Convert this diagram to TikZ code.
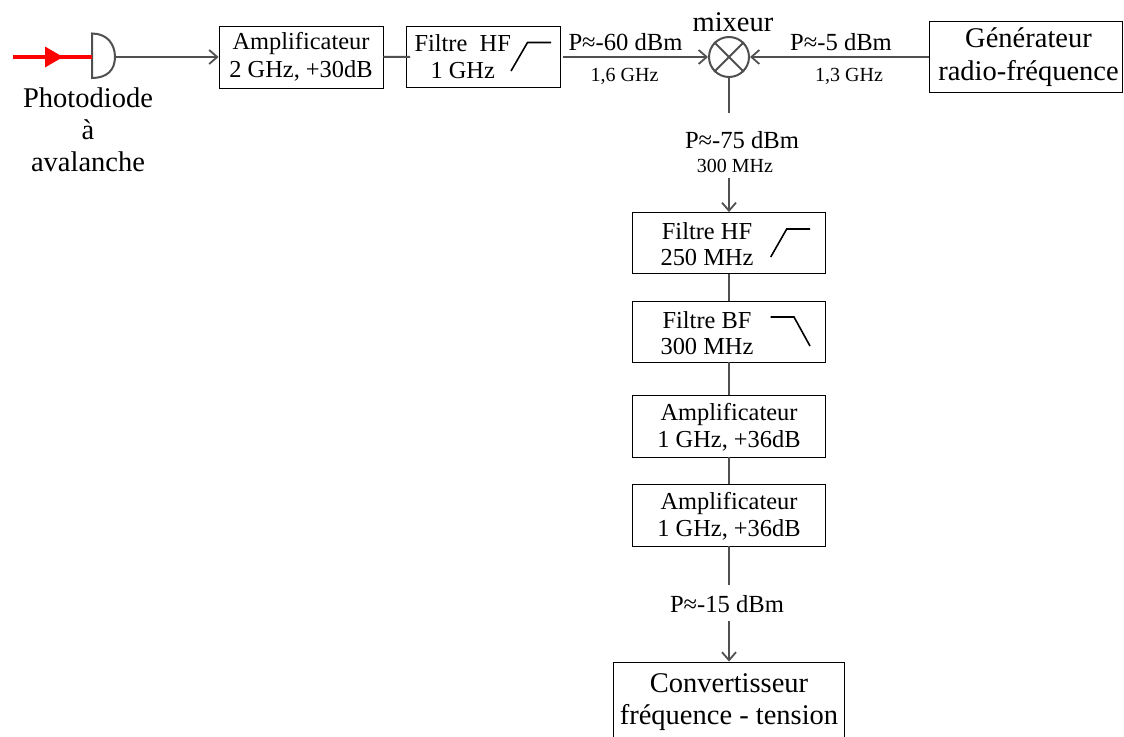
\documentclass[tikz,border=0pt]{standalone}
\usepackage{fontspec}
\setmainfont{Liberation Serif}
\usetikzlibrary{arrows.meta}
\definecolor{wire}{HTML}{505050}
\newcommand{\fs}[1]{\fontsize{#1}{#1}\selectfont}
\newcommand{\lowr}{\rule{0pt}{20pt}}
\tikzset{
  x=1pt,y=-1pt,
  blockbox/.style={draw=black,line width=0.9pt,fill=white,inner sep=0pt,align=center,anchor=center},
  txtA/.style={font=\fs{24.4},text=black},
  txtB/.style={font=\fs{28.5},text=black},
  lab/.style={inner sep=0pt,anchor=base,text=black},
  small/.style={lab,font=\fs{20}},
  med/.style={lab,font=\fs{24.6}},
  big/.style={lab,font=\fs{28.5}},
  wireline/.style={draw=wire,line width=2pt},
  wirearrow/.style={wireline,-{Straight Barb[length=8pt,width=14pt,line width=1.8pt]}},
  curve/.style={draw=black,line width=1.6pt,line join=miter},
}
\begin{document}
\begin{tikzpicture}
\useasboundingbox (0,0) rectangle (1124,736);
% coordinates of the photodiode
\coordinate (pdin) at (92,57);
\coordinate (pdout) at (115,57);
\coordinate (redstart) at (13,57);
% blocks
\node[blockbox,txtA,minimum width=164pt,minimum height=62pt] (amp1) at (301,57) {Amplificateur\\[3.2pt]2 GHz, +30dB};
\node[blockbox,txtA,minimum width=153.5pt,minimum height=61.5pt] (filt1) at (483.2,56.8) {Filtre\ \ HF\hspace*{41pt}\\[2pt]1 GHz\hspace*{41pt}};
\node[blockbox,txtB,minimum width=193pt,minimum height=71pt] (gen) at (1025.5,57) {\hspace*{6pt}G\'en\'erateur\\[5pt]\hspace*{6pt}radio-fr\'equence};
\node[draw=wire,line width=2pt,circle,fill=white,minimum size=40pt,inner sep=0pt] (mix) at (729,57) {};
\node[blockbox,txtA,minimum width=193.5pt,minimum height=61pt] (hf) at (729,243) {\lowr Filtre HF\hspace*{44pt}\\[1.5pt]250 MHz\hspace*{44pt}};
\node[blockbox,txtA,minimum width=193.5pt,minimum height=60.5pt] (bf) at (729,331.7) {\lowr Filtre BF\hspace*{44pt}\\[1.5pt]300 MHz\hspace*{44pt}};
\node[blockbox,txtA,minimum width=193.5pt,minimum height=62pt] (amp2) at (729,426) {\lowr Amplificateur\\[2.6pt]1 GHz, +36dB};
\node[blockbox,txtA,minimum width=193.5pt,minimum height=62pt] (amp3) at (729,515) {\lowr Amplificateur\\[2.6pt]1 GHz, +36dB};
\node[blockbox,txtB,minimum width=231pt,minimum height=80pt] (conv) at (729,702) {Convertisseur\\[4pt]fr\'equence - tension};
% mixer cross
\draw[draw=wire,line width=2pt] (mix.45) -- (mix.225) (mix.135) -- (mix.315);
% photodiode
\draw[draw=wire,line width=2pt,fill=white] (92,33.5) .. controls (107,33.5) and (115,44) .. (115,57) .. controls (115,70) and (107,78) .. (92,78) -- cycle;
\draw[red,line width=4pt] (redstart) -- (pdin);
\fill[red] (45,46.5) -- (63,57) -- (45,67.5) -- cycle;
% connectors
\coordinate (f1out) at (563,57);
\coordinate (m75a) at (729,113);
\coordinate (m75b) at (729,178);
\coordinate (o15a) at (729,585);
\coordinate (o15b) at (729,621);
\draw[wirearrow] (pdout) -- (amp1.west);
\draw[wireline] (amp1.east) -- ([xshift=4pt]filt1.west);
\draw[wirearrow] (f1out) -- (mix.west);
\draw[wirearrow] (gen.west) -- (mix.east);
\draw[wireline] (mix.south) -- (m75a);
\draw[wirearrow] (m75b) -- (hf.north);
\draw[wireline] (hf.south) -- (bf.north);
\draw[wireline] (bf.south) -- (amp2.north);
\draw[wireline] (amp2.south) -- (amp3.north);
\draw[wireline] (amp3.south) -- (o15a);
\draw[wirearrow] (o15b) -- (conv.north);
% filter curves
\draw[curve] (511,71) -- (527.5,42.5) -- (551,42.5);
\draw[curve] (770.7,257) -- (786.7,229) -- (810,229);
\draw[curve] (770.7,317) -- (794,317) -- (810,346);
% labels
\node[big] (l1) at (88,107) {Photodiode};
\node[big] (l2) at (88,139) {\`a};
\node[big] (l3) at (88,171) {avalanche};
\node[big] (l4) at (733,31) {mixeur};
\node[med] (l5) at (625.5,50) {P≈-60 dBm};
\node[small] (l6) at (624.5,81) {1,6 GHz};
\node[med] (l7) at (841,50) {P≈-5 dBm};
\node[small] (l8) at (849,81) {1,3 GHz};
\node[med] (l9) at (742,148) {P≈-75 dBm};
\node[small] (l10) at (735,172) {300 MHz};
\node[med] (l11) at (727,612) {P≈-15 dBm};
\end{tikzpicture}
\end{document}
